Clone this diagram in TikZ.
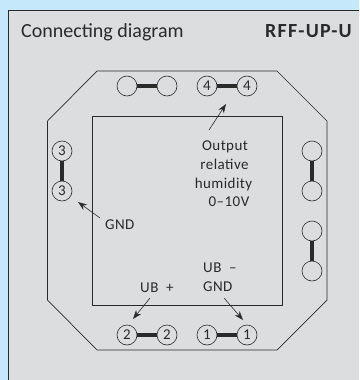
\documentclass[tikz,border=0pt]{standalone}
\usepackage{fontspec}
\setmainfont{Carlito}
\newfontfamily\lblfont[LetterSpace=3]{Carlito}
\newfontfamily\modelfont[LetterSpace=6]{Carlito}
\usetikzlibrary{arrows.meta}
\definecolor{skyb}{HTML}{C5E8FB}
\definecolor{panelg}{HTML}{DCDDDF}
\definecolor{inkd}{HTML}{2A2A2A}
\tikzset{
 pin/.style={circle,draw=inkd,line width=0.6pt,minimum size=20pt,inner sep=0pt,font=\lblfont\fontsize{15}{15}\selectfont,text=inkd},
 link/.style={draw=inkd,line width=3.2pt},
 lbl/.style={font=\lblfont\fontsize{15}{19}\selectfont,text=inkd,inner sep=0pt},
 callout/.style={draw=inkd,line width=0.6pt,-{Stealth[length=9pt,width=6.5pt]}},
 outline/.style={draw=inkd,line width=0.7pt}
}
\begin{document}
\begin{tikzpicture}[x=1pt,y=-1pt]
\useasboundingbox (0,0) rectangle (359,380);
\fill[skyb] (0,0) rectangle (359,380);
\fill[panelg] (8.5,10) rectangle (359,380);
\draw[inkd,line width=0.7pt] (359,10) -- (8.5,10) -- (8.5,380);
\node[anchor=base west,inner sep=0pt,text=inkd,font=\fontsize{20}{22}\selectfont] (title) at (21,37) {Connecting diagram};
\node[anchor=base east,inner sep=0pt,text=inkd,font=\modelfont\bfseries\fontsize{20}{22}\selectfont] (model) at (352,37) {RFF-UP-U};
\draw[outline] (97,71) -- (277,71) -- (327,121) -- (327,300) -- (277,350) -- (97,350) -- (47.5,300) -- (47.5,121) -- cycle;
\draw[outline] (92.5,116) rectangle (282,305);
\node[pin] (t1) at (127,86) {};
\node[pin] (t2) at (167,86) {};
\node[pin] (t3) at (207,86) {4};
\node[pin] (t4) at (247,86) {4};
\node[pin] (b1) at (127,335) {2};
\node[pin] (b2) at (167,335) {2};
\node[pin] (b3) at (207,335) {1};
\node[pin] (b4) at (247,335) {1};
\node[pin] (l1) at (62,151) {3};
\node[pin] (l2) at (62,191) {3};
\node[pin] (r1) at (312,151) {};
\node[pin] (r2) at (312,191) {};
\node[pin] (r3) at (312,231) {};
\node[pin] (r4) at (312,271) {};
\foreach \a/\b in {t1/t2,t3/t4,b1/b2,b3/b4,l1/l2,r1/r2,r3/r4} \draw[link] (\a) -- (\b);
\node[lbl,anchor=base] (out) at (225,150) {Output};
\node[lbl,anchor=base] (rel) at (224.5,169.5) {relative};
\node[lbl,anchor=base] (hum) at (223.5,188) {humidity};
\node[lbl,anchor=base] (volt) at (229,206) {0–10V};
\node[lbl,anchor=base west] (gnd) at (105,229) {GND};
\node[lbl,anchor=base west] (ubp) at (140,292) {UB\ \ +};
\node[lbl,anchor=base west] (ubm) at (203,272) {UB\ \ –};
\node[lbl,anchor=base west] (gnd2) at (203,291) {GND};
\coordinate (c1s) at (209,130);
\coordinate (c1e) at (226,104);
\coordinate (c2s) at (100,218);
\coordinate (c2e) at (78,202);
\coordinate (c3s) at (150,298);
\coordinate (c3e) at (133,319);
\coordinate (c4s) at (224,298);
\coordinate (c4e) at (243,320);
\draw[callout] (c1s) -- (c1e);
\draw[callout] (c2s) -- (c2e);
\draw[callout] (c3s) -- (c3e);
\draw[callout] (c4s) -- (c4e);
\end{tikzpicture}
\end{document}
